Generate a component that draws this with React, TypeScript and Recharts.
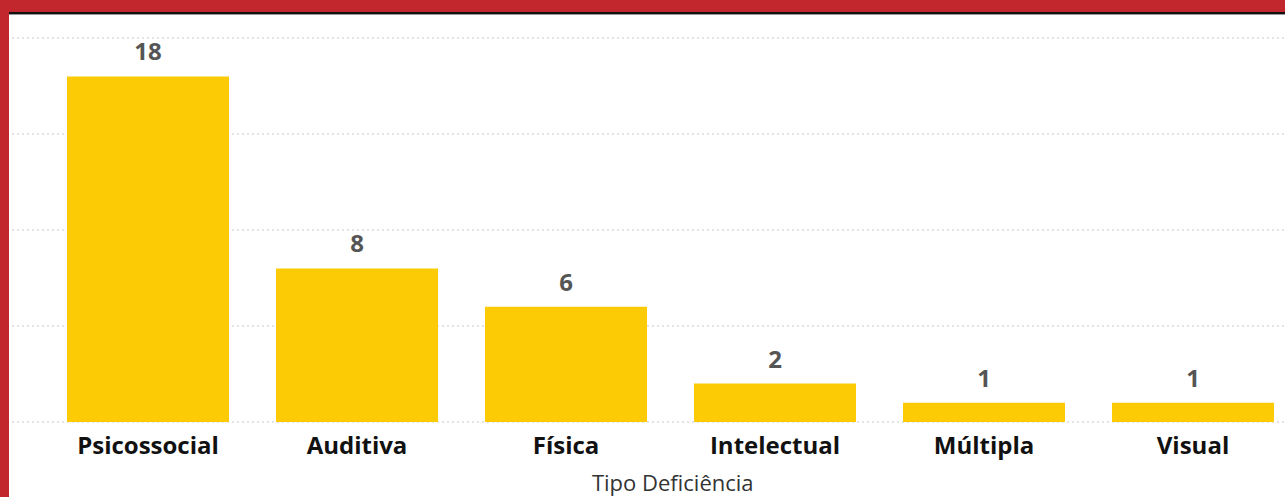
import React from 'react';
import { BarChart, Bar, XAxis, YAxis, CartesianGrid, LabelList } from 'recharts';

const categories = ['Psicossocial', 'Auditiva', 'Física', 'Intelectual', 'Múltipla', 'Visual'];
const counts = [18, 8, 6, 2, 1, 1];
const yTicks = [0, 5, 10, 15, 20];

const data = categories.map((tipo, i) => ({ tipo, total: counts[i] }));

const RED = '#c1272d';
const YELLOW = '#fccb05';

export default function App() {
  return (
    <div
      style={{
        position: 'absolute',
        left: 0,
        top: 0,
        width: 1285,
        height: 497,
        overflow: 'hidden',
        background: '#fff',
        fontFamily: '"Open Sans", sans-serif',
      }}
    >
      <BarChart
        width={1310}
        height={497}
        data={data}
        margin={{ top: 38, right: 12.5, bottom: 0, left: 12 }}
        barCategoryGap={23.5}
      >
        <CartesianGrid vertical={false} stroke="#c8c8c8" strokeDasharray="2 3" />
        <YAxis hide domain={[0, 20]} ticks={yTicks} />
        <XAxis
          dataKey="tipo"
          axisLine={false}
          tickLine={false}
          tickSize={0}
          tickMargin={15}
          height={75}
          interval={0}
          padding={{ left: 31.5, right: 0 }}
          tick={{ fill: '#111', fontSize: 24, fontWeight: 700, fontFamily: '"Open Sans", sans-serif' }}
          label={{
            value: 'Tipo Deficiência',
            position: 'insideBottom',
            offset: 6,
            dx: 18,
            fill: '#333',
            fontSize: 22,
            fontFamily: '"Open Sans", sans-serif',
          }}
        />
        <Bar dataKey="total" fill={YELLOW} isAnimationActive={false}>
          <LabelList
            dataKey="total"
            position="top"
            offset={16}
            fill="#555"
            fontSize={24}
            fontWeight={700}
            fontFamily='"Open Sans", sans-serif'
          />
        </Bar>
      </BarChart>
      <div style={{ position: 'absolute', left: 0, top: 0, width: 1285, height: 12, background: RED }} />
      <div style={{ position: 'absolute', left: 0, top: 12, width: 1285, height: 2, background: '#111' }} />
      <div style={{ position: 'absolute', left: 0, top: 14, width: 1285, height: 1, background: '#999' }} />
      <div style={{ position: 'absolute', left: 0, top: 0, width: 9, height: 497, background: RED }} />
    </div>
  );
}
